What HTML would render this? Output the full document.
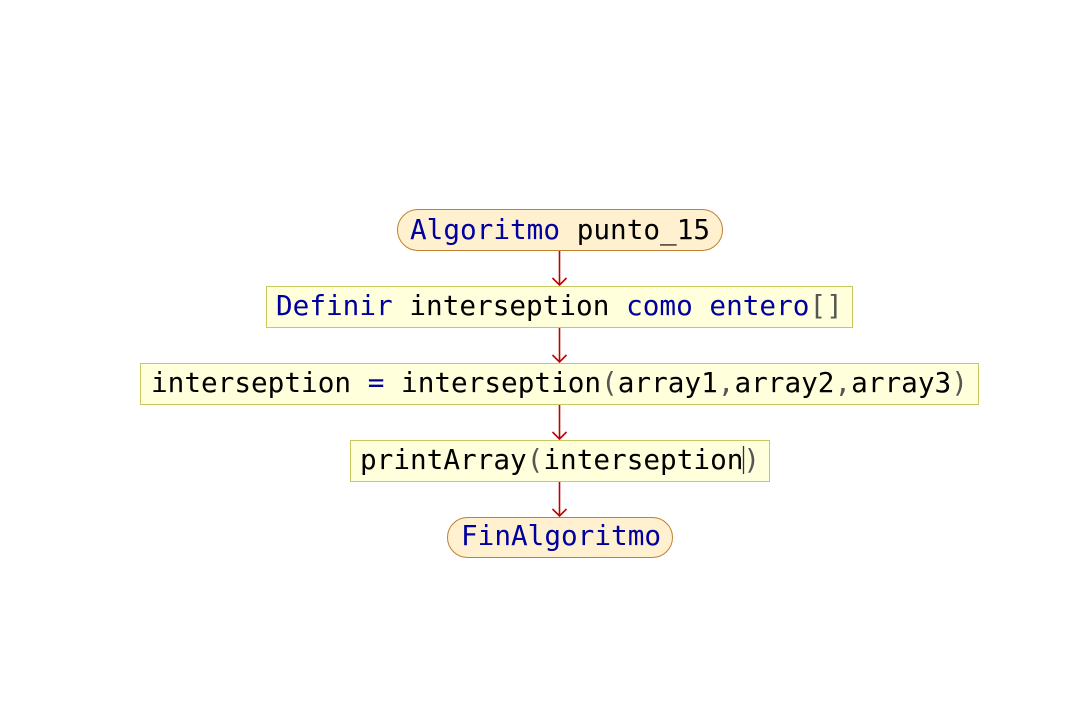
<!DOCTYPE html>
<html><head><meta charset="utf-8"><style>
html,body{margin:0;padding:0;background:#fff;}
svg text{font-family:"DejaVu Sans Mono","Liberation Mono",monospace;font-size:27.7px;}
.k{fill:#0000a0}.n{fill:#000}.g{fill:#555}
</style></head><body>
<svg width="1073" height="722" xmlns="http://www.w3.org/2000/svg">
<g stroke="#c00000" stroke-width="1.6" fill="none">
<line x1="559.5" y1="250" x2="559.5" y2="285"/>
<path d="M552.5,278 L559.5,285 L566.5,278"/>
<line x1="559.5" y1="327" x2="559.5" y2="362"/>
<path d="M552.5,355 L559.5,362 L566.5,355"/>
<line x1="559.5" y1="404" x2="559.5" y2="439"/>
<path d="M552.5,432 L559.5,439 L566.5,432"/>
<line x1="559.5" y1="481" x2="559.5" y2="516"/>
<path d="M552.5,509 L559.5,516 L566.5,509"/>
</g>
<rect x="397.5" y="209.5" width="325" height="41" rx="20.5" fill="#fff0d0" stroke="#c08030"/>
<rect x="266.5" y="286.5" width="586" height="41" fill="#ffffdc" stroke="#c8c860"/>
<rect x="140.5" y="363.5" width="838" height="41" fill="#ffffdc" stroke="#c8c860"/>
<rect x="350.5" y="440.5" width="419" height="41" fill="#ffffdc" stroke="#c8c860"/>
<rect x="447.5" y="517.5" width="225" height="40" rx="20" fill="#fff0d0" stroke="#c08030"/>
<text x="410" y="239" xml:space="preserve"><tspan class="k">Algoritmo</tspan><tspan class="n"> punto_15</tspan></text>
<text x="276" y="315" xml:space="preserve"><tspan class="k">Definir</tspan><tspan class="n"> interseption </tspan><tspan class="k">como entero</tspan><tspan class="g">[]</tspan></text>
<text x="151" y="392" xml:space="preserve"><tspan class="n">interseption </tspan><tspan class="k">=</tspan><tspan class="n"> interseption</tspan><tspan class="g">(</tspan><tspan class="n">array1</tspan><tspan class="g">,</tspan><tspan class="n">array2</tspan><tspan class="g">,</tspan><tspan class="n">array3</tspan><tspan class="g">)</tspan></text>
<text x="360" y="469" xml:space="preserve"><tspan class="n">printArray</tspan><tspan class="g">(</tspan><tspan class="n">interseption</tspan><tspan class="g">)</tspan></text>
<line x1="743.5" y1="446" x2="743.5" y2="474" stroke="#333" stroke-width="1.3"/>
<text x="461" y="545" class="k">FinAlgoritmo</text>
</svg>
</body></html>
